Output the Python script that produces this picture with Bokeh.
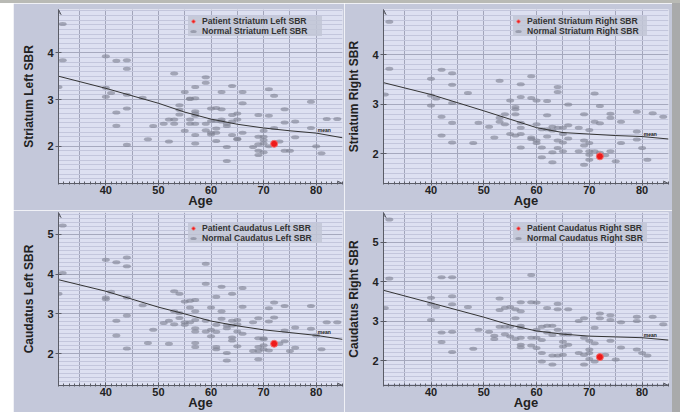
from bokeh.plotting import figure
from bokeh.layouts import column, row
from bokeh.models import SingleIntervalTicker, Range1d, Legend, LegendItem, Arrow, VeeHead, Label, Spacer
from bokeh.embed import file_html
from bokeh.resources import INLINE

FONT = "Liberation Sans"
BG = "#c4c8da"
PLOT_BG = "#dde0f1"

# ---------------- data ----------------
titles = ["Striatum Left SBR", "Striatum Right SBR", "Caudatus Left SBR", "Caudatus Right SBR"]

sl_age = [31.8, 31.8, 31, 40, 40, 40, 41, 42, 42, 42, 44, 44, 44, 44, 44, 47, 48, 49, 51, 52, 52, 53, 53, 53,
          54, 54, 54, 55, 55, 56, 56, 56, 56, 57, 57, 57, 57, 57, 57, 57, 57, 59, 59, 59, 59, 60, 60, 60, 60,
          61, 61, 61, 61, 61, 62, 62, 62, 62, 63, 63, 63, 63, 64, 64, 64, 64, 65, 65, 65, 65, 66, 66, 66, 68,
          69, 69, 69, 69, 69, 70, 70, 70, 70, 70, 71, 71, 71, 72, 72, 73, 74, 74, 74, 75, 76, 76, 79, 79, 80,
          81, 82, 84]
sl_sbr = [4.62, 3.84, 3.27, 3.93, 3.25, 3.06, 3.14, 3.83, 2.72, 2.44, 3.84, 3.66, 3.10, 2.81, 2.03, 3.04, 2.15,
          2.43, 2.48, 2.10, 2.57, 3.56, 2.48, 2.57, 2.88, 2.68, 2.78, 2.33, 3.16, 3.02, 3.01, 2.48, 2.57, 3.27,
          2.75, 2.70, 2.65, 2.48, 2.24, 2.06, 3.03, 3.48, 3.36, 2.48, 2.34, 2.81, 2.54, 2.29, 2.25, 2.82, 2.54,
          2.38, 2.29, 2.11, 3.16, 2.79, 2.57, 2.53, 2.43, 2.48, 1.98, 1.68, 3.29, 2.67, 2.53, 2.24, 2.70, 2.57,
          2.15, 2.16, 3.16, 2.92, 2.29, 1.98, 2.67, 2.20, 2.04, 1.90, 1.81, 2.33, 2.20, 2.13, 2.06, 1.87, 3.22,
          2.65, 2.00, 3.08, 2.39, 2.10, 2.79, 2.51, 1.90, 1.90, 2.53, 2.19, 2.95, 2.39, 2.00, 1.85, 2.58, 2.58]

sr_age = [32.1, 32.1, 31.25, 40, 40, 40, 41, 42, 42, 42, 44, 44, 44, 44, 44, 47, 48, 49, 51, 52, 53, 53, 53,
          54, 54, 55, 55, 56, 56, 56, 56, 57, 57, 57, 57, 57, 57, 59, 59, 59, 59, 60, 60, 60, 60, 61, 61, 61,
          62, 62, 62, 62, 63, 63, 63, 63, 64, 64, 64, 64, 64, 65, 65, 65, 65, 66, 66, 66, 68, 68, 69, 69, 69,
          69, 70, 70, 70, 70, 70, 71, 71, 71, 72, 72, 72, 73, 74, 74, 74, 75, 76, 76, 79, 79, 79, 80, 81, 82, 84]
sr_sbr = [4.67, 3.72, 3.20, 3.52, 3.18, 2.98, 3.12, 3.70, 2.75, 2.37, 3.63, 3.40, 3.03, 2.63, 2.23, 3.23, 2.22,
          2.63, 2.55, 2.33, 3.48, 2.73, 2.65, 2.80, 2.60, 3.08, 2.40, 2.95, 2.90, 2.80, 2.37, 3.41, 3.15, 2.63,
          2.53, 2.40, 2.13, 3.57, 3.13, 2.33, 2.30, 3.08, 2.60, 2.27, 2.22, 2.50, 2.13, 1.93, 3.07, 2.78, 2.50,
          2.35, 2.55, 2.47, 2.03, 1.83, 3.35, 3.25, 2.53, 2.27, 2.12, 2.53, 2.40, 2.23, 2.05, 3.00, 2.58, 2.31,
          2.53, 2.05, 2.80, 2.27, 2.17, 1.78, 2.48, 2.22, 2.05, 1.98, 1.88, 3.22, 2.65, 2.05, 2.97, 2.62, 2.02,
          1.97, 2.81, 2.73, 2.05, 1.85, 2.65, 2.22, 2.85, 2.45, 2.29, 2.12, 1.88, 2.82, 2.75]

cl_age = [31.8, 31.8, 31, 40, 40, 40, 41, 42, 42, 42, 44, 44, 44, 44, 44, 47, 48, 49, 51, 52, 52, 53, 53, 53,
          54, 54, 54, 55, 55, 55, 56, 56, 56, 57, 57, 57, 57, 57, 57, 57, 59, 59, 59, 59, 60, 60, 60, 61, 61,
          61, 61, 61, 62, 62, 62, 63, 63, 63, 63, 64, 64, 64, 64, 64, 65, 65, 65, 65, 66, 66, 66, 68, 68, 69,
          69, 69, 69, 69, 70, 70, 70, 70, 71, 71, 71, 72, 72, 73, 74, 74, 74, 75, 76, 76, 79, 79, 80, 81, 82, 84]
cl_sbr = [5.22, 4.03, 3.51, 4.36, 3.41, 3.37, 3.56, 4.30, 2.83, 2.46, 4.42, 4.20, 3.41, 2.96, 2.13, 3.22, 2.27,
          2.60, 2.77, 2.25, 2.83, 3.57, 3.07, 2.74, 3.51, 3.02, 2.90, 3.31, 2.79, 2.73, 3.33, 3.16, 2.79, 3.35,
          3.07, 2.85, 2.64, 2.56, 2.27, 2.17, 4.26, 3.76, 2.83, 2.56, 3.16, 2.60, 2.44, 3.43, 2.73, 2.55, 2.17,
          2.11, 3.68, 3.07, 2.88, 2.71, 2.64, 2.02, 1.83, 3.51, 2.83, 2.71, 2.41, 2.33, 2.85, 2.74, 2.56, 2.19,
          3.65, 3.18, 2.50, 2.79, 2.07, 2.89, 2.39, 2.17, 2.07, 1.86, 2.39, 2.36, 2.21, 2.11, 3.14, 2.81, 2.08,
          3.29, 2.91, 2.25, 3.20, 2.58, 2.31, 2.07, 2.66, 2.15, 3.20, 2.63, 2.46, 2.11, 2.79, 2.79]

cr_age = [32.1, 32.1, 31.25, 40, 40, 40, 41, 42, 42, 42, 44, 44, 44, 44, 44, 47, 48, 49, 51, 52, 52, 53, 53,
          53, 54, 54, 54, 55, 55, 55, 56, 56, 56, 57, 57, 57, 57, 57, 57, 57, 59, 59, 59, 59, 60, 60, 60, 60,
          61, 61, 61, 61, 62, 62, 62, 63, 63, 63, 63, 64, 64, 64, 64, 65, 65, 65, 65, 66, 66, 66, 68, 68, 69,
          69, 69, 69, 70, 70, 70, 70, 71, 71, 71, 72, 72, 73, 74, 74, 74, 75, 76, 76, 79, 79, 79, 80, 81, 82, 84]
cr_sbr = [5.57, 4.08, 3.33, 3.59, 3.43, 3.03, 3.36, 4.11, 2.71, 2.47, 4.11, 3.63, 3.43, 2.73, 2.22, 3.36, 2.30,
          2.78, 2.73, 2.63, 2.55, 3.57, 3.28, 2.86, 3.34, 2.67, 2.86, 3.36, 2.86, 2.61, 3.30, 3.07, 2.55, 3.48,
          3.25, 2.88, 2.83, 2.58, 2.40, 2.34, 4.17, 3.48, 2.58, 2.38, 3.47, 2.78, 2.58, 2.32, 2.86, 2.52, 2.19,
          1.98, 3.33, 2.88, 2.71, 2.88, 2.65, 2.13, 1.90, 3.44, 3.30, 2.78, 2.13, 2.67, 2.48, 2.36, 2.15, 3.30,
          2.67, 2.40, 3.00, 2.19, 3.07, 2.58, 2.15, 1.90, 2.50, 2.28, 2.19, 2.04, 2.83, 2.44, 1.98, 3.19, 3.07,
          2.15, 3.15, 3.03, 2.50, 2.03, 2.97, 2.33, 3.11, 3.00, 2.28, 2.19, 2.13, 3.11, 2.92]

patient_age = [72, 72, 72, 72]
patient_sbr = [2.05, 1.95, 2.25, 2.09]

fit_age = [31, 40, 50, 55, 60, 65, 70, 75, 80, 85]
sl_fit = [3.50, 3.24, 2.92, 2.73, 2.58, 2.47, 2.39, 2.33, 2.28, 2.18]
sr_fit = [3.44, 3.20, 2.87, 2.70, 2.53, 2.43, 2.40, 2.37, 2.35, 2.30]
cl_fit = [3.86, 3.57, 3.17, 3.00, 2.82, 2.70, 2.60, 2.53, 2.46, 2.36]
cr_fit = [3.78, 3.46, 3.10, 2.90, 2.75, 2.67, 2.62, 2.60, 2.58, 2.52]

x_limits = (31, 85)
y_limits = [(1.2, 4.93), (1.4, 4.92), (1.2, 5.55), (1.37, 5.75)]


def make_panel(name, ages, vals, pat_x, pat_y, fit_y, ylim, width, height, left, right, top, bottom):
    p = figure(width=width, height=height, x_range=Range1d(*x_limits), y_range=Range1d(*ylim),
               output_backend="svg", toolbar_location=None,
               min_border_left=left, min_border_right=right, min_border_top=top, min_border_bottom=bottom)
    p.background_fill_color = PLOT_BG
    p.border_fill_color = BG
    p.outline_line_color = None

    # axes
    p.xaxis.ticker = SingleIntervalTicker(interval=10, num_minor_ticks=10)
    p.yaxis.ticker = SingleIntervalTicker(interval=1, num_minor_ticks=10)
    for ax in (p.xaxis, p.yaxis):
        ax.axis_line_color = "#5a5c66"
        ax.major_tick_line_color = "#5a5c66"
        ax.minor_tick_line_color = "#5a5c66"
        ax.major_label_text_font = FONT
        ax.major_label_text_font_style = "bold"
        ax.major_label_text_font_size = "11px"
        ax.major_label_text_color = "#222222"
        ax.axis_label_text_font = FONT
        ax.axis_label_text_font_style = "bold"
        ax.axis_label_text_color = "#222222"
        ax.major_tick_in = 3
        ax.major_tick_out = 3
        ax.major_label_standoff = 1
    p.xaxis.axis_label = "Age"
    p.xaxis.axis_label_text_font_size = "13px"
    p.xaxis.major_tick_out = 2
    p.xaxis.major_label_standoff = 0
    p.xaxis.minor_tick_in = 2
    p.xaxis.minor_tick_out = 1
    p.xaxis.axis_label_standoff = -4
    p.yaxis.axis_label = name
    p.yaxis.axis_label_text_font_size = "12px"
    p.yaxis.axis_label_standoff = 8
    p.yaxis.minor_tick_line_color = None

    # grids
    p.xgrid.ticker = SingleIntervalTicker(interval=5)
    p.xgrid.grid_line_color = "#a2a5ba"
    p.ygrid.grid_line_color = "#a6a9be"
    p.ygrid.minor_grid_line_color = "#c3c6dc"

    # axis arrows
    p.add_layout(Arrow(end=VeeHead(size=5, line_color="#5a5c66", line_width=1, fill_color=None),
                       x_start=x_limits[0], y_start=ylim[1] - 0.1, x_end=x_limits[0], y_end=ylim[1],
                       line_color="#5a5c66", line_width=1))
    p.add_layout(Arrow(end=VeeHead(size=5, line_color="#5a5c66", line_width=1, fill_color=None),
                       x_start=x_limits[1] - 1, y_start=ylim[0], x_end=x_limits[1], y_end=ylim[0],
                       line_color="#5a5c66", line_width=1))

    # data
    r_norm = p.ellipse(x=ages, y=vals, width=8, height=4, width_units="screen", height_units="screen",
                       fill_color="#7e8191", fill_alpha=0.62, line_color=None)
    p.line(x=fit_age, y=fit_y, line_color="#333333", line_width=1)
    p.add_layout(Label(x=fit_age[-2] + 0.3, y=fit_y[-2], text="mean", text_font=FONT,
                       text_font_size="5px", text_font_style="bold", text_color="#222222"))
    r_pat = p.scatter(x=[pat_x], y=[pat_y], size=7, fill_color="#ee1a1a", line_color="#f36b6b", line_width=1)

    frame_h = height - top - bottom
    legend = Legend(items=[LegendItem(label="Patient " + name, renderers=[r_pat]),
                           LegendItem(label="Normal " + name, renderers=[r_norm])],
                    location=(130, frame_h - 9 - 22))
    legend.background_fill_color = "#c2c5d6"
    legend.background_fill_alpha = 0.85
    legend.border_line_color = None
    legend.label_text_font = FONT
    legend.label_text_font_style = "bold"
    legend.label_text_font_size = "8.6px"
    legend.label_text_color = "#333333"
    legend.label_height = 8
    legend.label_width = 120
    legend.glyph_height = 8
    legend.glyph_width = 10
    legend.label_standoff = 4
    legend.spacing = 0
    legend.padding = 2
    legend.margin = 0
    p.add_layout(legend)
    return p


p1 = make_panel(titles[0], sl_age, sl_sbr, patient_age[0], patient_sbr[0], sl_fit, y_limits[0], 331, 207, 45, 2, 6, 23)
p2 = make_panel(titles[1], sr_age, sr_sbr, patient_age[1], patient_sbr[1], sr_fit, y_limits[1], 328, 207, 38, 4, 6, 23)
p3 = make_panel(titles[2], cl_age, cl_sbr, patient_age[2], patient_sbr[2], cl_fit, y_limits[2], 331, 202, 45, 2, 2, 27)
p4 = make_panel(titles[3], cr_age, cr_sbr, patient_age[3], patient_sbr[3], cr_fit, y_limits[3], 328, 202, 38, 4, 2, 27)

top_strip = Spacer(width=680, height=3, styles={"background-color": "#b9bab5"})
left_strip = Spacer(width=13, height=409)
right_strip = Spacer(width=8, height=409, styles={"background-color": "#a9aaab"})
grid = column(row(p1, p2), row(p3, p4))
layout = column(top_strip, row(left_strip, grid, right_strip))
open("out.html", "w").write(file_html(layout, INLINE))
